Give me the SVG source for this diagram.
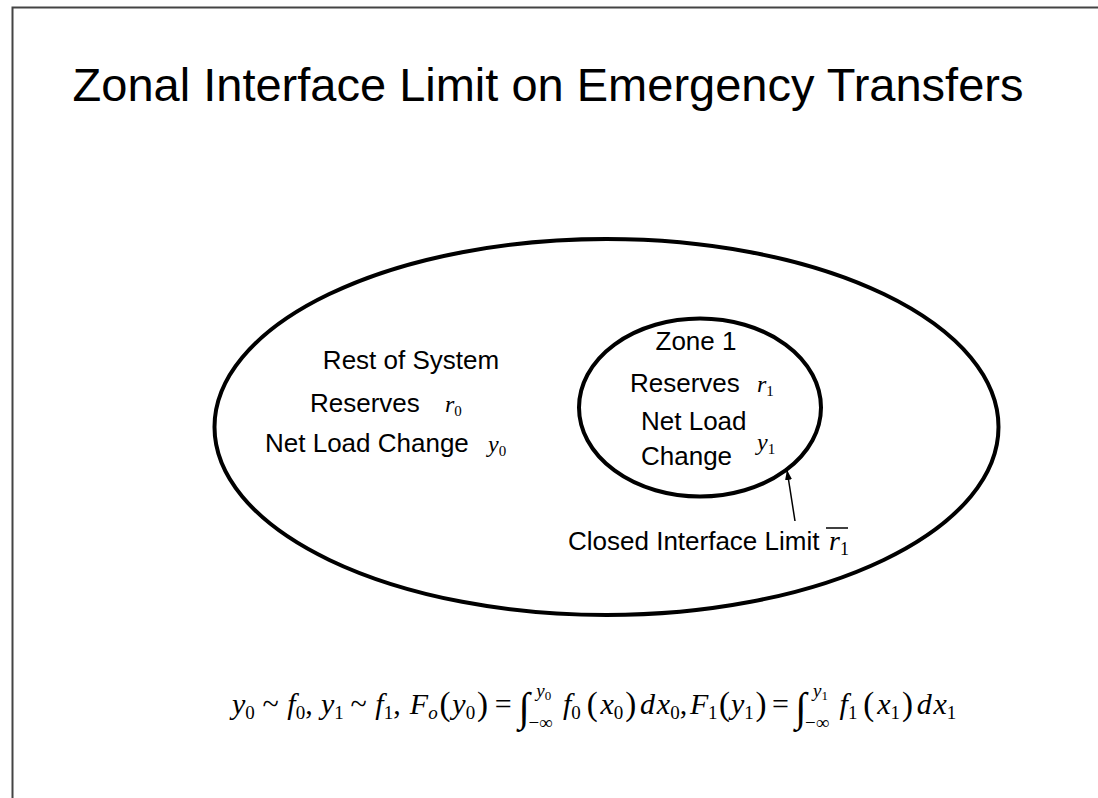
<svg xmlns="http://www.w3.org/2000/svg" width="1098" height="798" viewBox="0 0 1098 798">
<style>
.s{font-family:"Liberation Sans",Arial,sans-serif;font-size:26px;fill:#000}
.m{font-family:"Liberation Serif","Times New Roman",serif;font-style:italic;fill:#000}
.n{font-family:"Liberation Serif","Times New Roman",serif;font-style:normal;fill:#000}
.e{fill:none;stroke:#000;stroke-width:4}
</style>
<defs>
<marker id="ah" markerWidth="10" markerHeight="12" refX="10" refY="5" orient="auto" markerUnits="userSpaceOnUse">
<path d="M0,1.5 L10,5 L0,8.5 Z" fill="#000"/>
</marker>
</defs>
<rect width="1098" height="798" fill="#fff"/>
<path d="M12.5,798 V7.5 H1098" fill="none" stroke="#444" stroke-width="2"/>
<text x="548" y="101" text-anchor="middle" font-family="Liberation Sans, Arial, sans-serif" font-size="47">Zonal Interface Limit on Emergency Transfers</text>
<g id="system">
<ellipse class="e" cx="606.5" cy="427" rx="392" ry="188"/>
<text class="s" x="411" y="369" text-anchor="middle">Rest of System</text>
<text class="s" x="310" y="412">Reserves</text>
<text class="m" x="445" y="412" font-size="24">r<tspan class="n" font-size="15" dy="4">0</tspan></text>
<text class="s" x="265" y="452">Net Load Change</text>
<text class="m" x="488" y="452" font-size="24">y<tspan class="n" font-size="15" dy="4">0</tspan></text>
</g>
<g id="zone1">
<ellipse class="e" cx="700" cy="407.5" rx="121" ry="89"/>
<text class="s" x="696" y="350" text-anchor="middle">Zone 1</text>
<text class="s" x="630" y="392">Reserves</text>
<text class="m" x="757" y="392" font-size="24">r<tspan class="n" font-size="15" dy="4">1</tspan></text>
<text class="s" x="641" y="430">Net Load</text>
<text class="s" x="641" y="465">Change</text>
<text class="m" x="757" y="450" font-size="24">y<tspan class="n" font-size="15" dy="4">1</tspan></text>
</g>
<g id="label">
<text class="s" x="568" y="550">Closed Interface Limit</text>
<text class="m" x="829" y="550" font-size="28">r<tspan class="n" font-size="18" dy="5">1</tspan></text>
<line x1="826" y1="528" x2="848" y2="528" stroke="#000" stroke-width="1.5"/>
</g>
<g id="connectors">
<line x1="795" y1="521" x2="787" y2="470" stroke="#000" stroke-width="1.5" marker-end="url(#ah)"/>
</g>
<g id="equation" font-size="30">
<text class="m" x="232" y="714">y<tspan class="n" font-size="19" dy="5">0</tspan></text>
<text class="n" x="262.6" y="714">~</text>
<text class="m" x="287.3" y="714">f<tspan class="n" font-size="19" dy="5">0</tspan><tspan class="n" dy="-5">,</tspan></text>
<text class="m" x="320.9" y="714">y<tspan class="n" font-size="19" dy="5">1</tspan></text>
<text class="n" x="350.6" y="714">~</text>
<text class="m" x="375.3" y="714">f<tspan class="n" font-size="19" dy="5">1</tspan><tspan class="n" dy="-5">,</tspan></text>
<text class="m" x="409.8" y="714">F<tspan font-size="19" dy="5">o</tspan></text>
<text class="n" x="439.5" y="715" font-size="33">(</text>
<text class="m" x="452.3" y="714">y<tspan class="n" font-size="19" dy="5">0</tspan></text>
<text class="n" x="477" y="715" font-size="33">)</text>
<text class="n" x="494.8" y="714">=</text>
<text class="n" x="518.5" y="721" font-size="41">∫</text>
<text class="m" x="536.3" y="697" font-size="19">y<tspan class="n" font-size="13" dy="3">0</tspan></text>
<text class="n" x="528.4" y="729" font-size="19">−∞</text>
<text class="m" x="563" y="714">f<tspan class="n" font-size="19" dy="5">0</tspan></text>
<text class="n" x="586.7" y="715" font-size="33">(</text>
<text class="m" x="600.5" y="714">x<tspan class="n" font-size="19" dy="5">0</tspan></text>
<text class="n" x="625.2" y="715" font-size="33">)</text>
<text class="m" x="640" y="714">d</text>
<text class="m" x="656.8" y="714">x<tspan class="n" font-size="19" dy="5">0</tspan><tspan class="n" dy="-5">,</tspan></text>
<text class="m" x="690" y="714">F</text>
<text class="n" x="708" y="719" font-size="19">1</text>
<text class="n" x="719" y="715" font-size="33">(</text>
<text class="m" x="731" y="714">y<tspan class="n" font-size="19" dy="5">1</tspan></text>
<text class="n" x="755.5" y="715" font-size="33">)</text>
<text class="n" x="772" y="714">=</text>
<text class="n" x="795.2" y="721" font-size="41">∫</text>
<text class="m" x="813" y="697" font-size="19">y<tspan class="n" font-size="13" dy="3">1</tspan></text>
<text class="n" x="805" y="729" font-size="19">−∞</text>
<text class="m" x="839.6" y="714">f<tspan class="n" font-size="19" dy="5">1</tspan></text>
<text class="n" x="863.3" y="715" font-size="33">(</text>
<text class="m" x="877.2" y="714">x<tspan class="n" font-size="19" dy="5">1</tspan></text>
<text class="n" x="901.9" y="715" font-size="33">)</text>
<text class="m" x="916.7" y="714">d</text>
<text class="m" x="933.5" y="714">x<tspan class="n" font-size="19" dy="5">1</tspan></text>
</g>
</svg>
